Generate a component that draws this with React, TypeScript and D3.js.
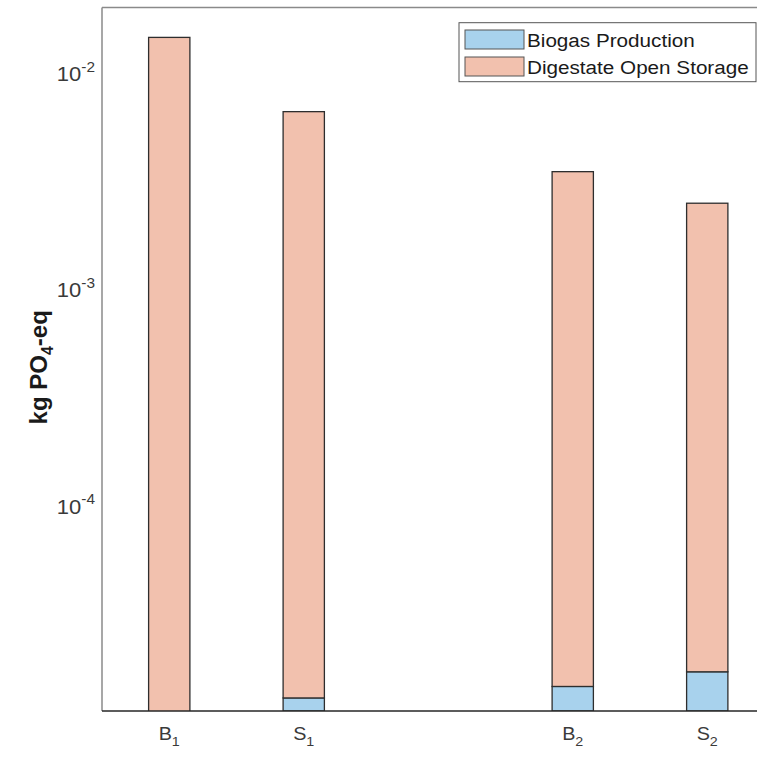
import React from "react";
import * as d3 from "d3";

// Scenario categories and their x slots (gap between the two groups)
const categories = ["B", "S", "B", "S"];
const subscripts = ["1", "1", "2", "2"];
const positions = [1, 2, 4, 5];

// Stacked contributions, kg PO4-eq
const biogasProduction = [9.0e-6, 1.31e-5, 1.48e-5, 1.73e-5];
const digestateOpenStorage = [0.01476, 0.00669, 0.003525, 0.002513];

const seriesNames = ["Biogas Production", "Digestate Open Storage"];
const seriesColors = ["#a8d2ed", "#f2c1ae"];

const yTickExponents = [-2, -3, -4];

const W = 757;
const H = 758;
const plot = { left: 102, top: 7.5, bottom: 711, right: 774.5 };
const FONT = "'Liberation Sans', Arial, Helvetica, sans-serif";
const SX = 1.1; // horizontal glyph stretch

export default function App() {
  const x = d3.scaleLinear().domain([0.5, 5.5]).range([plot.left, plot.right]);
  const y = d3
    .scaleLog()
    .domain([1.14e-5, 0.0203])
    .range([plot.bottom, plot.top]);
  const slot = x(2) - x(1);
  const barW = slot * 0.307;

  const stackData = positions.map((p, i) => ({
    pos: p,
    biogas: biogasProduction[i],
    digestate: digestateOpenStorage[i],
  }));
  const stacked = d3.stack<any>().keys(["biogas", "digestate"])(stackData);

  const yMin = y.domain()[0];

  return (
    <svg
      width={W}
      height={H}
      style={{ position: "absolute", left: 0, top: 0, background: "#fff" }}
      fontFamily={FONT}
    >
      <defs>
        <clipPath id="plotClip">
          <rect
            x={plot.left}
            y={plot.top}
            width={plot.right - plot.left}
            height={plot.bottom - plot.top}
          />
        </clipPath>
      </defs>
      <rect width={W} height={H} fill="#fff" />

      {/* stacked bars */}
      <g clipPath="url(#plotClip)">
        {stacked.map((layer, si) =>
          layer.map((d, i) => {
            const lo = Math.max(d[0] > 0 ? d[0] : yMin, yMin * 0.5);
            const y0 = y(lo);
            const y1 = y(d[1]);
            const cx = x(stackData[i].pos);
            return (
              <rect
                key={`${si}-${i}`}
                x={cx - barW / 2}
                y={y1}
                width={barW}
                height={Math.max(0, y0 - y1)}
                fill={seriesColors[si]}
                stroke="#2e2e2e"
                strokeWidth={1.3}
              />
            );
          })
        )}
      </g>

      {/* axes box */}
      <line x1={plot.left} x2={W} y1={plot.top} y2={plot.top} stroke="#8a8a8a" strokeWidth={1.5} />
      <line x1={plot.left} x2={plot.left} y1={plot.top} y2={plot.bottom} stroke="#8a8a8a" strokeWidth={1.5} />
      <line x1={plot.left} x2={W} y1={plot.bottom} y2={plot.bottom} stroke="#262626" strokeWidth={1.5} />

      {/* y tick labels */}
      {yTickExponents.map((e) => {
        const ty = y(Math.pow(10, e));
        return (
          <g key={e} transform={`translate(95,${ty + 7}) scale(${SX},1)`}>
            <text textAnchor="end" fontSize={20} fill="#3a3a3a">
              10
              <tspan dy={-9.5} fontSize={14}>
                {String(e)}
              </tspan>
            </text>
          </g>
        );
      })}

      {/* x tick labels */}
      {positions.map((p, i) => (
        <g key={i} transform={`translate(${x(p)},740) scale(${SX},1)`}>
          <text textAnchor="middle" fontSize={18} fill="#3a3a3a">
            {categories[i]}
            <tspan dy={6} fontSize={13}>
              {subscripts[i]}
            </tspan>
          </text>
        </g>
      ))}

      {/* y axis label */}
      <g transform={`translate(47,${(plot.top + plot.bottom) / 2 + 8}) rotate(-90)`}>
        <text textAnchor="middle" fontSize={24} fontWeight="bold" fill="#1a1a1a">
          kg PO
          <tspan dy={6} fontSize={16}>4</tspan>
          <tspan dy={-6}>-eq</tspan>
        </text>
      </g>

      {/* legend */}
      <g>
        <rect x={459} y={22.7} width={297} height={59} fill="#fff" stroke="#555" strokeWidth={1} />
        {seriesNames.map((name, i) => (
          <g key={name}>
            <rect
              x={465}
              y={30 + i * 27}
              width={59}
              height={19}
              fill={seriesColors[i]}
              stroke="#555"
              strokeWidth={1}
            />
            <g transform={`translate(527,${46.5 + i * 27}) scale(${SX},1)`}>
              <text fontSize={18.8} fill="#1a1a1a">
                {name}
              </text>
            </g>
          </g>
        ))}
      </g>
    </svg>
  );
}
